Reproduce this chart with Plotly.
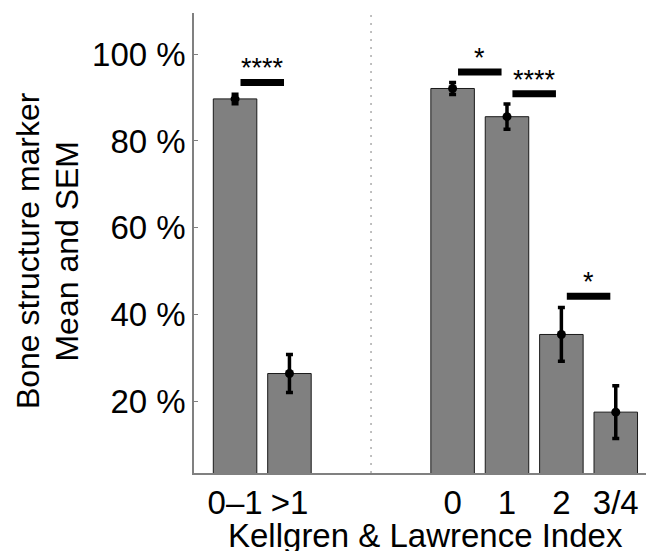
import plotly.graph_objects as go

# ---- data ----
categories = ["0\u20131", ">1", "0", "1", "2", "3/4"]
positions = [1, 2, 5, 6, 7, 8]
means = [89.7, 26.4, 92.1, 85.6, 35.4, 17.5]
sems = [1.1, 4.4, 1.4, 2.9, 6.2, 6.1]
tick_values = [20, 40, 60, 80, 100]

sig_pairs = [(0, 1), (2, 3), (3, 4), (4, 5)]
sig_levels = [93.5, 95.9, 90.9, 44.2]
sig_labels = ["****", "*", "****", "*"]

y_title_lines = ["Bone structure marker", "Mean and SEM"]
x_title = "Kellgren & Lawrence Index"

FONT = "Liberation Sans, Arial, Helvetica, sans-serif"
GRAY = "#808080"

fig = go.Figure()

fig.add_trace(go.Bar(
    x=positions, y=means, width=0.8,
    marker=dict(color=GRAY, line=dict(color="#1a1a1a", width=1)),
    showlegend=False, hoverinfo="skip",
))

fig.add_trace(go.Scatter(
    x=positions, y=means, mode="markers",
    marker=dict(color="black", size=9),
    error_y=dict(type="data", array=sems, visible=True,
                 color="black", thickness=3.5, width=3.5),
    showlegend=False, hoverinfo="skip",
))

# significance bars
for (i, j), lvl, lab in zip(sig_pairs, sig_levels, sig_labels):
    fig.add_trace(go.Scatter(
        x=[positions[i] + 0.1, positions[j] - 0.1], y=[lvl, lvl],
        mode="lines", line=dict(color="black", width=7),
        showlegend=False, hoverinfo="skip",
    ))
    fig.add_annotation(
        x=(positions[i] + positions[j]) / 2, y=lvl, xref="x", yref="y",
        text=lab, showarrow=False, yanchor="middle", xanchor="center",
        yshift=14, font=dict(family=FONT, size=27, color="black"),
    )

# divider between groups
divider = (positions[1] + positions[2]) / 2
fig.add_shape(type="line", x0=divider, x1=divider, y0=0, y1=1,
              xref="x", yref="y domain",
              line=dict(color=GRAY, width=1, dash="2px,6px"))

fig.update_layout(
    width=646, height=551,
    margin=dict(l=194, r=0, t=13, b=78, autoexpand=False),
    paper_bgcolor="white", plot_bgcolor="white",
    font=dict(family=FONT, size=33, color="black"),
)

fig.update_xaxes(
    range=[0.245, 8.556], tickmode="array", tickvals=positions,
    ticktext=categories, ticks="", showline=True, linecolor=GRAY,
    linewidth=1.5, showgrid=False, zeroline=False, automargin=False,
    tickfont=dict(family=FONT, size=33, color="black"),
)
fig.update_yaxes(
    range=[3.47, 109.5], tickmode="array", tickvals=tick_values,
    ticktext=[f"{v} %" for v in tick_values], ticks="inside", ticklen=4,
    tickcolor=GRAY, showline=True, linecolor=GRAY, linewidth=1.5,
    showgrid=False, zeroline=False, automargin=False,
    tickfont=dict(family=FONT, size=33, color="black"),
)

fig.add_annotation(
    x=0.513, y=-0.137, xref="paper", yref="paper",
    text=x_title, showarrow=False, yshift=1,
    xanchor="center", yanchor="middle",
    font=dict(family=FONT, size=33, color="black"),
)
for xp, line in zip([-0.367, -0.282], y_title_lines):
    fig.add_annotation(
        x=xp, y=0.5, xref="paper", yref="paper",
        text=line, showarrow=False, yshift=-8,
        textangle=-90, xanchor="center", yanchor="middle",
        font=dict(family=FONT, size=32, color="black"),
    )

fig.write_html("out.html", config={"displayModeBar": False},
               post_script="document.body.style.margin='0px';")
